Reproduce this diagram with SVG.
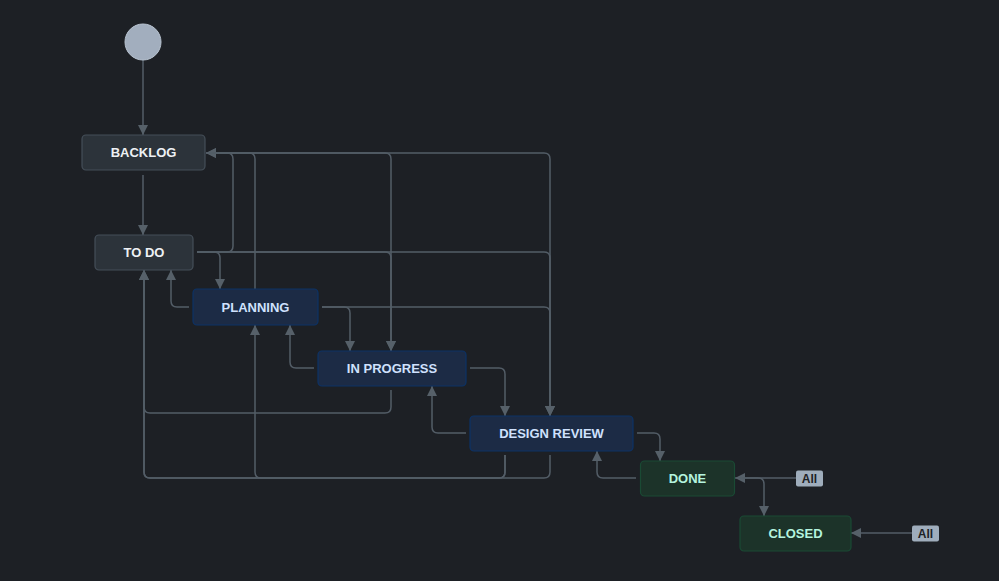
<svg xmlns="http://www.w3.org/2000/svg" width="999" height="581" viewBox="0 0 999 581">
<style>
.bg{fill:#1d2025}
.c{fill:none;stroke:#535d67;stroke-width:1.5}
.n rect{stroke-width:1.2}
.gray rect{fill:#2c333a;stroke:#454f59}
.blue rect{fill:#1c2b45;stroke:#0c3266}
.green rect{fill:#1c3329;stroke:#1a4a34}
.n text{font-family:"Liberation Sans",Arial,sans-serif;font-weight:bold;font-size:13px;text-anchor:middle;dominant-baseline:central}
.gray text{fill:#eef1f4}
.blue text{fill:#cfe1fd}
.green text{fill:#b4f4df}
.badge rect{fill:#9fadbc}
.badge text{font-family:"Liberation Sans",Arial,sans-serif;font-weight:bold;font-size:12px;fill:#1d2125;text-anchor:middle;dominant-baseline:central}
</style>
<defs>
<marker id="ah" markerUnits="userSpaceOnUse" markerWidth="11" markerHeight="11" viewBox="0 0 11 11" refX="10" refY="5.5" orient="auto">
<path d="M0 0.5 L10 5.5 L0 10.5 Z" fill="#566069"/>
</marker>
</defs>
<rect class="bg" x="0" y="0" width="999" height="581"/>
<g id="connectors">
<path class="c" d="M143 60 V135" marker-end="url(#ah)"/>
<path class="c" d="M143 175 V235" marker-end="url(#ah)"/>
<path class="c" d="M197 252 H227 Q233 252 233 246 V159 Q233 153 227 153 H206" marker-end="url(#ah)"/>
<path class="c" d="M255 289 V159 Q255 153 249 153 H206" marker-end="url(#ah)"/>
<path class="c" d="M209 153 H385 Q391 153 391 159 V351" marker-end="url(#ah)"/>
<path class="c" d="M209 153 H544 Q550 153 550 159 V416" marker-end="url(#ah)"/>
<path class="c" d="M197 252 H214 Q220 252 220 258 V289" marker-end="url(#ah)"/>
<path class="c" d="M197 252 H385 Q391 252 391 258 V351" marker-end="url(#ah)"/>
<path class="c" d="M197 252 H544 Q550 252 550 258 V416" marker-end="url(#ah)"/>
<path class="c" d="M322 307 H344 Q350 307 350 313 V351" marker-end="url(#ah)"/>
<path class="c" d="M322 307 H544 Q550 307 550 313 V416" marker-end="url(#ah)"/>
<path class="c" d="M470 368 H499 Q505 368 505 374 V416" marker-end="url(#ah)"/>
<path class="c" d="M637 433 H654 Q660 433 660 439 V461" marker-end="url(#ah)"/>
<path class="c" d="M189 307 H177 Q171 307 171 301 V270" marker-end="url(#ah)"/>
<path class="c" d="M314 368 H296 Q290 368 290 362 V325" marker-end="url(#ah)"/>
<path class="c" d="M466 433 H438 Q432 433 432 427 V386" marker-end="url(#ah)"/>
<path class="c" d="M636 478 H603 Q597 478 597 472 V451" marker-end="url(#ah)"/>
<path class="c" d="M391 390 V407 Q391 413 385 413 H150 Q144 413 144 407 V270" marker-end="url(#ah)"/>
<path class="c" d="M505 455 V472 Q505 478 499 478 H150 Q144 478 144 472 V270" marker-end="url(#ah)"/>
<path class="c" d="M550 455 V472 Q550 478 544 478 H150 Q144 478 144 472 V270" marker-end="url(#ah)"/>
<path class="c" d="M505 455 V472 Q505 478 499 478 H261 Q255 478 255 472 V325" marker-end="url(#ah)"/>
<path class="c" d="M796 478 H735" marker-end="url(#ah)"/>
<path class="c" d="M739 478 H758 Q764 478 764 484 V516" marker-end="url(#ah)"/>
<path class="c" d="M912 533 H851" marker-end="url(#ah)"/>
</g>
<g id="start">
<circle cx="143" cy="42" r="18" fill="#a2aebe" stroke="#b8c3d0" stroke-width="1"/>
</g>
<g id="backlog" class="n gray">
<rect x="82" y="135" width="123" height="35" rx="4"/>
<text x="143.5" y="152.5">BACKLOG</text>
</g>
<g id="todo" class="n gray">
<rect x="95" y="235" width="98" height="35" rx="4"/>
<text x="144" y="252.5">TO DO</text>
</g>
<g id="planning" class="n blue">
<rect x="193" y="289" width="125" height="36" rx="4"/>
<text x="255.5" y="307.5">PLANNING</text>
</g>
<g id="inprogress" class="n blue">
<rect x="318" y="351" width="148" height="35" rx="4"/>
<text x="392" y="368.5">IN PROGRESS</text>
</g>
<g id="designreview" class="n blue">
<rect x="470" y="416" width="163" height="35" rx="4"/>
<text x="551.5" y="433.5">DESIGN REVIEW</text>
</g>
<g id="done" class="n green">
<rect x="640.5" y="461" width="94" height="35" rx="4"/>
<text x="687.5" y="478.5">DONE</text>
</g>
<g id="closed" class="n green">
<rect x="740" y="516" width="111" height="35" rx="4"/>
<text x="795.5" y="533.5">CLOSED</text>
</g>
<g id="all-done" class="badge">
<rect x="796" y="470.5" width="27" height="16" rx="2"/>
<text x="809.5" y="478.5">All</text>
</g>
<g id="all-closed" class="badge">
<rect x="912" y="525.5" width="27" height="16" rx="2"/>
<text x="925.5" y="533.5">All</text>
</g>
</svg>
